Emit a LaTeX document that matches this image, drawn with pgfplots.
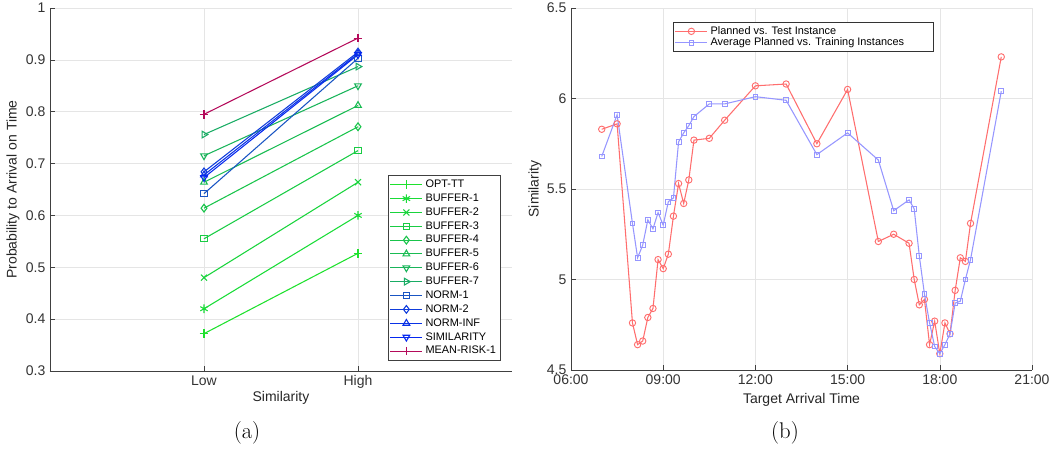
\documentclass[border=0pt]{standalone}
\usepackage{fontspec}
\setsansfont{Liberation Sans}
\usepackage{pgfplots}
\pgfplotsset{compat=1.18}

\definecolor{OptGreen}{RGB}{30,225,45}
\definecolor{BufA}{RGB}{25,220,55}
\definecolor{BufB}{RGB}{25,212,60}
\definecolor{BufC}{RGB}{25,204,68}
\definecolor{BufD}{RGB}{25,196,75}
\definecolor{BufE}{RGB}{25,188,82}
\definecolor{BufF}{RGB}{25,180,90}
\definecolor{BufG}{RGB}{25,172,100}
\definecolor{NormOne}{RGB}{25,85,195}
\definecolor{NormTwo}{RGB}{15,60,220}
\definecolor{NormInf}{RGB}{10,50,230}
\definecolor{SimBlue}{RGB}{5,40,240}
\definecolor{MeanRisk}{RGB}{180,10,90}
\definecolor{PlanRed}{RGB}{255,110,110}
\definecolor{TrainBlue}{RGB}{150,150,255}

\pgfplotsset{
  matstyle/.style={
    scale only axis,
    axis lines*=left,
    grid=major,
    grid style={draw=gray!20},
    tick align=inside,
    major tick length=4pt,
    tick style={black!75, thin},
    axis line style={black!75},
    /pgf/number format/assume math mode=true,
    tick label style={font=\sffamily\fontsize{10.5}{12}\selectfont, text=black!80},
    label style={font=\sffamily\fontsize{10.5}{12}\selectfont, text=black!85},
    legend cell align=left,
    legend image code/.code={
      \draw[mark repeat=2, mark phase=2] plot coordinates {(0cm,0cm) (0.42cm,0cm) (0.84cm,0cm)};
    },
  }
}

\begin{document}
\begin{tikzpicture}[font=\sffamily\fontsize{10.5}{12}\selectfont]
\useasboundingbox (0pt,0pt) rectangle (788.25pt,339pt);

% (a) probability vs similarity
\begin{axis}[
  matstyle,
  at={(37.5pt,60.75pt)}, anchor=south west,
  width=346.5pt, height=272.25pt,
  xmin=0, xmax=3, xtick={1,2}, xticklabels={Low,High},
  ymin=0.3, ymax=1, ytick={0.3,0.4,...,1.01},
  xlabel={Similarity},
  ylabel={Probability to Arrival on Time},
  xlabel style={at={(axis description cs:0.5,-0.074)}, anchor=center},
  ylabel style={at={(axis description cs:-0.08,0.5)}, anchor=center},
  every axis plot/.append style={line width=0.8pt, mark size=2.9pt, mark options={solid, line width=0.8pt}},
  legend style={at={(0.976,0.54)}, anchor=north east, draw=black!75,
    font=\sffamily\fontsize{8.2}{9}\selectfont, row sep=-0.8pt, inner sep=1.5pt},
]
\addplot[OptGreen, mark=+, mark size=3.2pt] coordinates {(1,0.372) (2,0.527)};
\addplot[BufA, mark=asterisk, mark size=3.2pt] coordinates {(1,0.420) (2,0.600)};
\addplot[BufB, mark=x, mark size=3.2pt] coordinates {(1,0.480) (2,0.664)};
\addplot[BufC, mark=square, mark size=2.4pt] coordinates {(1,0.555) (2,0.725)};
\addplot[BufD, mark=diamond] coordinates {(1,0.614) (2,0.771)};
\addplot[BufE, mark=triangle] coordinates {(1,0.664) (2,0.812)};
\addplot[BufF, mark=triangle, mark options={rotate=180}] coordinates {(1,0.715) (2,0.850)};
\addplot[BufG, mark=triangle, mark options={rotate=-90}] coordinates {(1,0.756) (2,0.887)};
\addplot[NormOne, mark=square, mark size=2.4pt] coordinates {(1,0.642) (2,0.903)};
\addplot[NormTwo, mark=diamond] coordinates {(1,0.684) (2,0.915)};
\addplot[NormInf, mark=triangle] coordinates {(1,0.678) (2,0.912)};
\addplot[SimBlue, mark=triangle, mark options={rotate=180}] coordinates {(1,0.673) (2,0.910)};
\addplot[MeanRisk, mark=+, mark size=3.2pt] coordinates {(1,0.795) (2,0.942)};
\legend{OPT-TT, BUFFER-1, BUFFER-2, BUFFER-3, BUFFER-4, BUFFER-5, BUFFER-6, BUFFER-7, NORM-1, NORM-2, NORM-INF, SIMILARITY, MEAN-RISK-1}
\end{axis}

% (b) similarity over target arrival time
\begin{axis}[
  matstyle,
  at={(428.25pt,61.5pt)}, anchor=south west,
  width=345.75pt, height=271.5pt,
  xmin=6, xmax=21, xtick={6,9,12,15,18,21},
  xticklabels={06:00,09:00,12:00,15:00,18:00,21:00},
  ymin=4.5, ymax=6.5, ytick={4.5,5,5.5,6,6.5},
  xlabel={Target Arrival Time},
  ylabel={Similarity},
  xlabel style={at={(axis description cs:0.5,-0.083)}, anchor=center},
  ylabel style={at={(axis description cs:-0.078,0.5)}, anchor=center},
  legend style={at={(0.787,0.961)}, anchor=north east, draw=black!80,
    font=\sffamily\fontsize{8.2}{9}\selectfont, row sep=-3pt, inner sep=1pt},
]
\addplot[PlanRed, line width=0.8pt, mark=o, mark size=2.4pt, mark options={solid, line width=0.7pt}] coordinates {
  (7,5.83) (7.5,5.86) (8,4.76) (8.167,4.64) (8.333,4.66) (8.5,4.79) (8.667,4.84)
  (8.833,5.11) (9,5.06) (9.167,5.14) (9.333,5.35) (9.5,5.53) (9.667,5.42) (9.833,5.55)
  (10,5.77) (10.5,5.78) (11,5.88) (12,6.07) (13,6.08) (14,5.75) (15,6.05)
  (16,5.21) (16.5,5.25) (17,5.20) (17.167,5.00) (17.333,4.86) (17.5,4.89)
  (17.667,4.64) (17.833,4.77) (18,4.59) (18.167,4.76) (18.333,4.70) (18.5,4.94)
  (18.667,5.12) (18.833,5.10) (19,5.31) (20,6.23)
};
\addplot[TrainBlue, line width=0.8pt, mark=square, mark size=1.8pt, mark options={solid, line width=0.7pt}] coordinates {
  (7,5.68) (7.5,5.91) (8,5.31) (8.167,5.12) (8.333,5.19) (8.5,5.33) (8.667,5.28)
  (8.833,5.37) (9,5.30) (9.167,5.43) (9.333,5.45) (9.5,5.76) (9.667,5.81) (9.833,5.85)
  (10,5.90) (10.5,5.97) (11,5.97) (12,6.01) (13,5.99) (14,5.69) (15,5.81)
  (16,5.66) (16.5,5.38) (17,5.44) (17.167,5.39) (17.333,5.13) (17.5,4.92)
  (17.667,4.76) (17.833,4.63) (18,4.59) (18.167,4.64) (18.333,4.70) (18.5,4.87)
  (18.667,4.88) (18.833,5.00) (19,5.11) (20,6.04)
};
\legend{Planned vs. Test Instance, Average Planned vs. Training Instances\hspace*{19pt}\mbox{}}
\end{axis}

\node[font=\rmfamily\fontsize{17}{20}\selectfont] at (185.25pt,14.25pt) {(a)};
\node[font=\rmfamily\fontsize{17}{20}\selectfont] at (588.75pt,14.25pt) {(b)};
\end{tikzpicture}
\end{document}
